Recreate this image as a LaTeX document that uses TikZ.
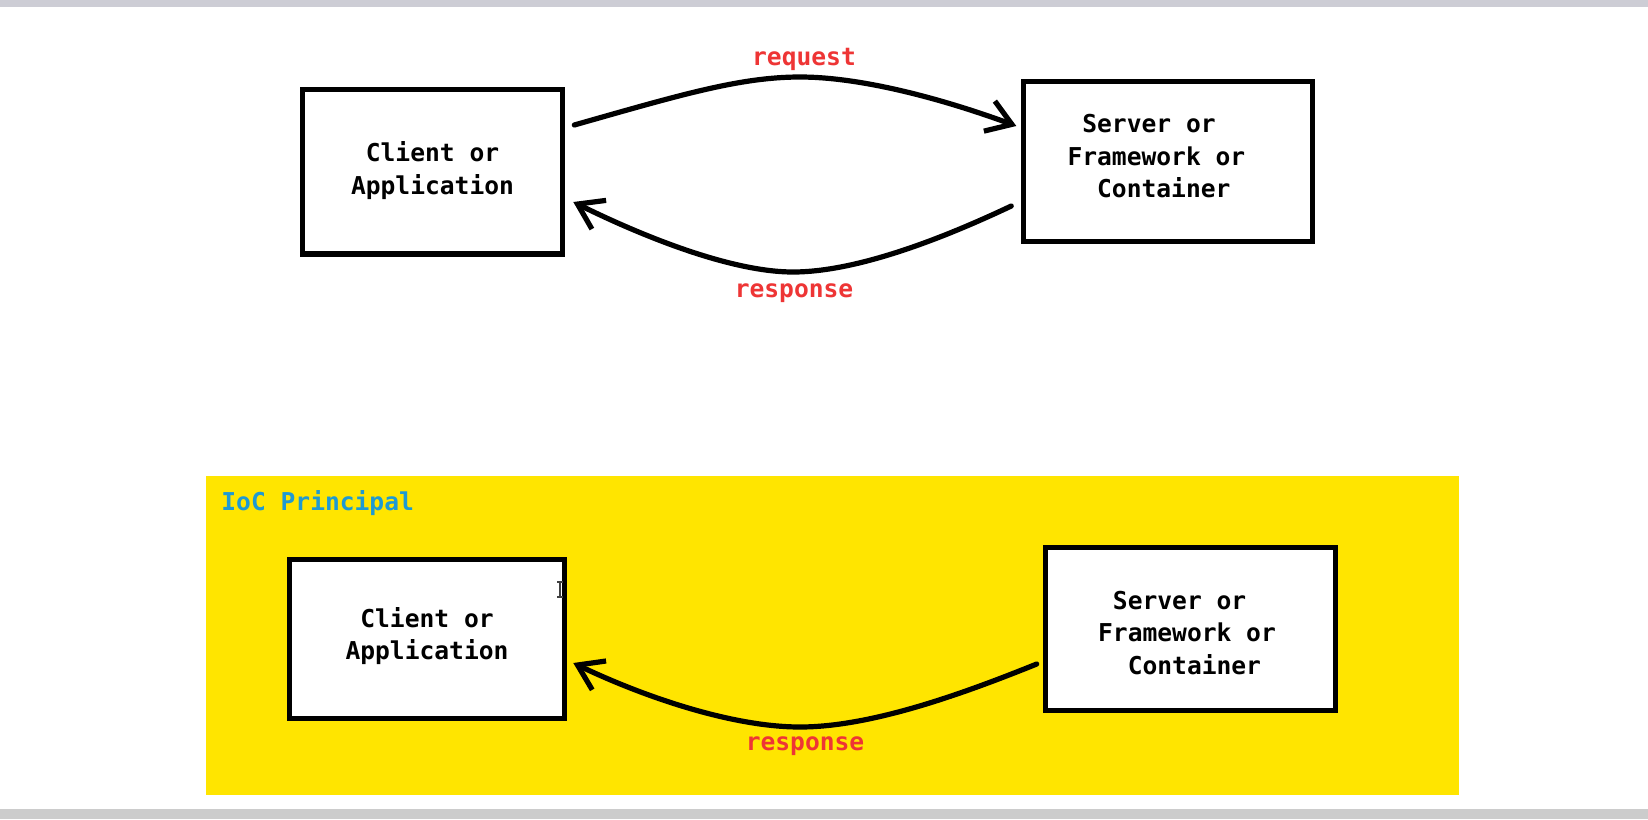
\documentclass[tikz,border=0pt]{standalone}
\usepackage{fontspec}
\setmonofont{DejaVu Sans Mono}
\usetikzlibrary{arrows.meta,calc}

\definecolor{hlyellow}{HTML}{FFE500}
\definecolor{lblred}{HTML}{EE3535}
\definecolor{lblblue}{HTML}{1E9AD2}
\definecolor{barlow}{HTML}{CCCCCC}
\definecolor{bartop}{HTML}{CDCDD5}

% centred lines of box text; #2 = extra space on the right (moves text left),
% #3 = extra space below (moves text up)
\newcommand{\boxlines}[3]{\vbox{\hbox{\begin{tabular}{@{}c@{}}#1\end{tabular}\kern#2}\kern#3}}
% one blank character cell of the monospace font
\newcommand{\cell}{\hphantom{x}}

\tikzset{
  boxfont/.style={font=\fontsize{12.3}{16.3}\selectfont\ttfamily\bfseries},
  actor/.style={boxfont, draw=black, line width=2.6pt, fill=white, inner sep=0pt},
  flow/.style={line width=2.6pt, line cap=round,
    -{Straight Barb[length=12pt,width=16pt]}},
  lbl/.style={font=\fontsize{12.3}{14}\selectfont\ttfamily\bfseries, inner sep=0pt},
}

\begin{document}
\begin{tikzpicture}[x=0.5pt,y=-0.5pt]
  \useasboundingbox (0,0) rectangle (1648,819);
  \fill[white] (0,0) rectangle (1648,819);
  \fill[bartop] (0,0) rectangle (1648,7);
  \fill[barlow] (0,809) rectangle (1648,819);

  % ---- classic request / response ----
  \node[actor, minimum width=130.2pt, minimum height=82.2pt] (c1) at (432.5,171.75)
    {\boxlines{Client or\\Application}{0pt}{0pt}};
  \node[actor, minimum width=144.6pt, minimum height=80.2pt] (s1) at (1168,161.5)
    {\boxlines{Server or\cell\\Framework or\\\cell Container}{11.6pt}{3pt}};

  \draw[flow] ($(c1.east)+(9,-46.75)$)
      .. controls (680,95) and (740,77) .. (800,77)
      .. controls (860,77) and (940,98) .. ($(s1.west)+(-4.5,-35.5)$);
  \draw[flow] ($(s1.west)+(-9.5,44.5)$)
      .. controls (950,235) and (860,272) .. (793,272)
      .. controls (730,272) and (640,235) .. ($(c1.east)+(8,30.25)$);

  \node[lbl, text=lblred, anchor=base] (req) at (804,65) {request};
  \node[lbl, text=lblred, anchor=base] (resp1) at (794,297) {response};

  % ---- inversion of control ----
  \fill[hlyellow] (206,476) rectangle (1459,795);
  \node[lbl, text=lblblue, anchor=base west] (ioc) at (221,510) {IoC Principal};

  \node[actor, minimum width=137.7pt, minimum height=79.7pt] (c2) at (427,639)
    {\boxlines{Client or\\Application}{0pt}{2pt}};
  \node[actor, minimum width=145.2pt, minimum height=81.7pt] (s2) at (1190.5,629)
    {\boxlines{Server or\cell\\Framework or\\\cell Container}{3.5pt}{-6.4pt}};

  \draw[flow] ($(s2.west)+(-6,35)$)
      .. controls (960,695) and (870,727) .. (800,727)
      .. controls (730,727) and (640,695) .. ($(c2.east)+(6,24)$);

  \node[lbl, text=lblred, anchor=base] (resp2) at (805,750) {response};

  % text cursor resting inside the client box
  \draw[line width=0.6pt, black!75] (557,582) -- (563,582) (560,582) -- (560,597)
      (557,597) -- (563,597);
\end{tikzpicture}
\end{document}
